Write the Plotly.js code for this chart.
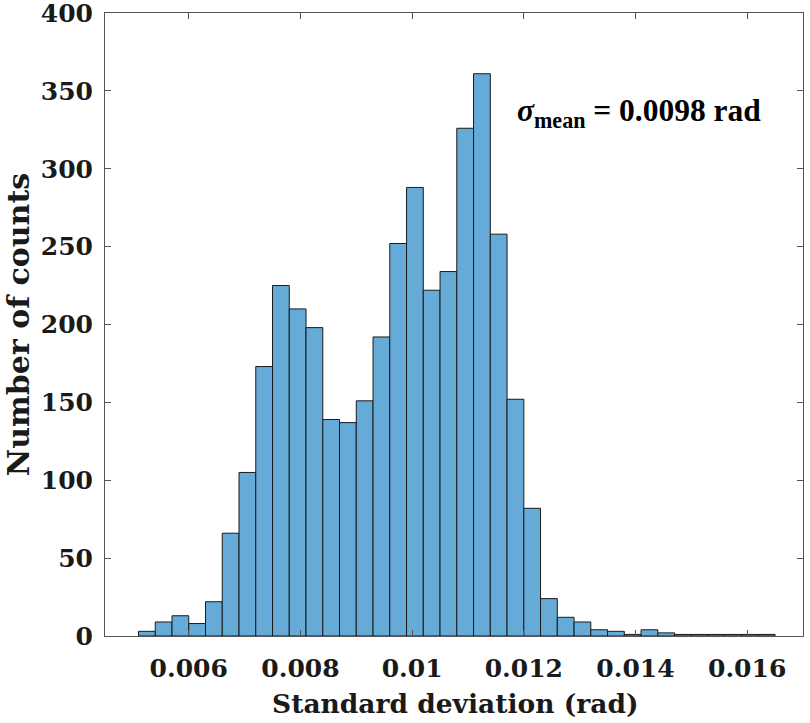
<!DOCTYPE html>
<html>
<head>
<meta charset="utf-8">
<script src="https://cdn.plot.ly/plotly-3.0.1.min.js"></script>
<style>html,body{margin:0;padding:0;background:#fff;}#chart{width:810px;height:723px;}</style>
</head>
<body>
<div id="chart"></div>
<script>
// Histogram bins (left edges start at 0.0051, width 0.0003)
const binStart = 0.0051;
const binWidth = 0.0003;
const counts = [3, 9, 13, 8, 22, 66, 105, 173, 225, 210, 198, 139, 137, 151, 192, 252, 288, 222, 234, 326, 361, 258, 152, 82, 24, 12, 9, 4, 3, 1, 4, 2, 1, 1, 1, 1, 1, 1];
const xTickVals = [0.006, 0.008, 0.01, 0.012, 0.014, 0.016];
const xTickText = ['0.006', '0.008', '0.01', '0.012', '0.014', '0.016'];
const yTickVals = [0, 50, 100, 150, 200, 250, 300, 350, 400];
const xTitle = 'Standard deviation (rad)';
const yTitle = 'Number of counts';
const annotationText = '<b><i>σ</i><sub>mean</sub> = 0.0098 rad</b>';

const centers = counts.map((_, i) => binStart + binWidth * (i + 0.5));

const trace = {
  type: 'bar',
  x: centers,
  y: counts,
  width: binWidth,
  marker: {color: '#66AAD7', line: {color: '#1a1a1a', width: 1}},
  hoverinfo: 'x+y'
};

const tickFont = {family: 'DejaVu Serif', size: 25, color: '#1a1a1a', weight: 'bold'};

const layout = {
  width: 810, height: 723,
  margin: {l: 105, r: 7, t: 13, b: 87},
  paper_bgcolor: '#fff', plot_bgcolor: '#fff',
  showlegend: false,
  bargap: 0,
  xaxis: {
    range: [0.0045, 0.017],
    tickvals: xTickVals, ticktext: xTickText,
    ticks: 'inside', ticklen: 6, tickcolor: '#555', tickwidth: 1,
    showline: true, linecolor: '#555', linewidth: 1, mirror: 'ticks',
    showgrid: false, zeroline: false,
    tickfont: tickFont,
    ticklabelstandoff: 10,
    ticklabeloverflow: 'allow'
  },
  yaxis: {
    range: [0, 400],
    tickvals: yTickVals,
    ticks: 'inside', ticklen: 6, tickcolor: '#555', tickwidth: 1,
    showline: true, linecolor: '#555', linewidth: 1, mirror: 'ticks',
    showgrid: false, zeroline: false,
    tickfont: tickFont,
    ticklabelstandoff: 6,
    ticklabeloverflow: 'allow',
    title: {text: '<b>' + yTitle + '</b>', font: {family: 'DejaVu Serif', size: 30, color: '#1a1a1a'}, standoff: 2}
  },
  annotations: [{
    xref: 'paper', yref: 'paper', x: 0.588, y: 0.84,
    xanchor: 'left', yanchor: 'middle', showarrow: false,
    text: annotationText,
    font: {family: 'Liberation Serif', size: 31.5, color: '#000'}
  }, {
    xref: 'paper', yref: 'paper', x: 0.502, y: -0.108,
    xanchor: 'center', yanchor: 'middle', showarrow: false,
    text: '<b>' + xTitle + '</b>',
    font: {family: 'DejaVu Serif', size: 26.5, color: '#1a1a1a'}
  }]
};

Plotly.newPlot('chart', [trace], layout, {displayModeBar: false, staticPlot: true});
</script>
</body>
</html>
